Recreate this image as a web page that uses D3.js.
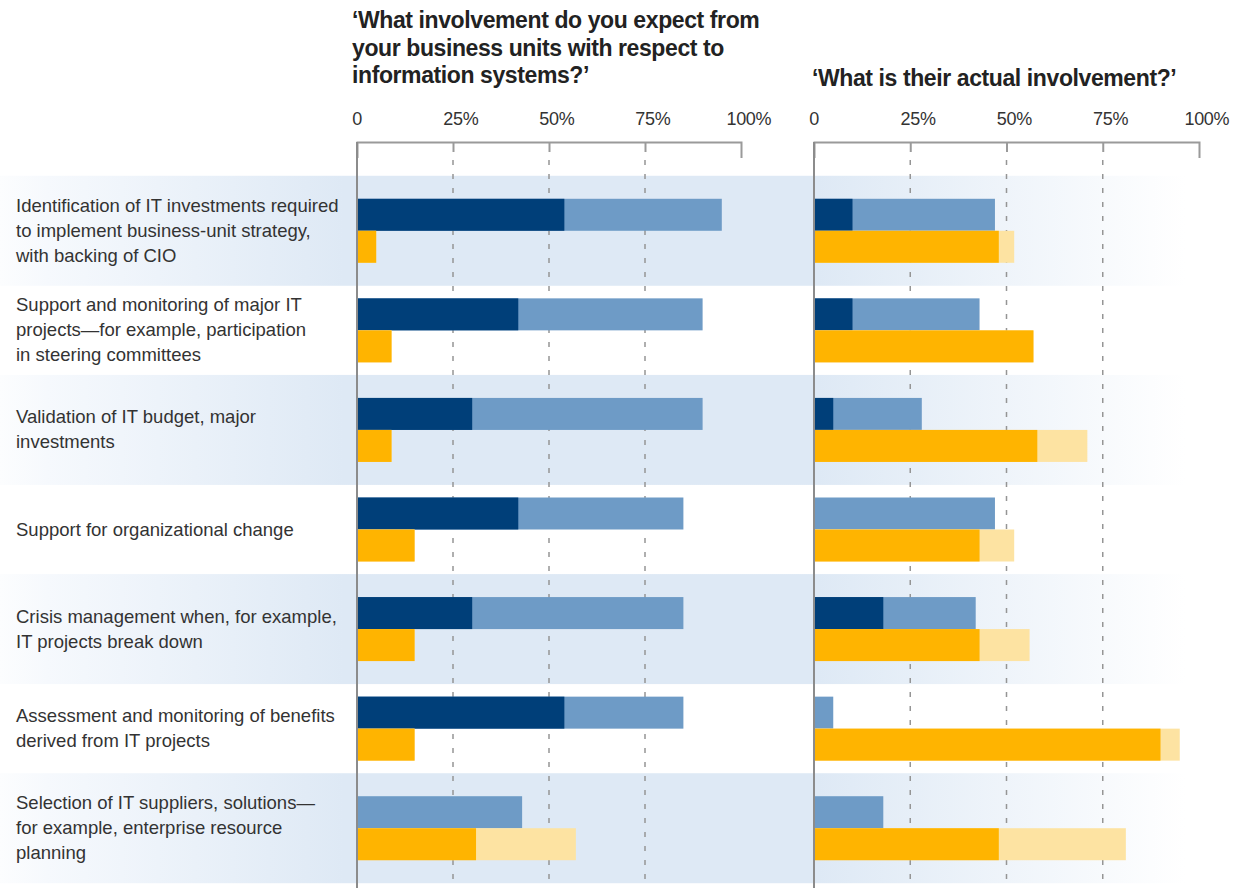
<!DOCTYPE html>
<html>
<head>
<meta charset="utf-8">
<script src="https://cdn.jsdelivr.net/npm/d3@7"></script>
<style>
  body { margin: 0; background: #fff; }
  svg { display: block; }
</style>
</head>
<body>
<svg id="chart" width="1239" height="888"></svg>
<script>
// row labels, one entry per line break
const categories = [
  ['Identification of IT investments required', 'to implement business-unit strategy,', 'with backing of CIO'],
  ['Support and monitoring of major IT', 'projects\u2014for example, participation', 'in steering committees'],
  ['Validation of IT budget, major', 'investments'],
  ['Support for organizational change'],
  ['Crisis management when, for example,', 'IT projects break down'],
  ['Assessment and monitoring of benefits', 'derived from IT projects'],
  ['Selection of IT suppliers, solutions\u2014', 'for example, enterprise resource', 'planning']
];

// expected involvement (%)
const expectStrong = [54, 42, 30, 42, 30, 54, 0];
const expectTotal = [95, 90, 90, 85, 85, 85, 43];
const expectOrange = [5, 9, 9, 15, 15, 15, 31];
const expectOrangeTotal = [5, 9, 9, 15, 15, 15, 57];

// actual involvement (%)
const actualStrong = [10, 10, 5, 0, 18, 0, 0];
const actualTotal = [47, 43, 28, 47, 42, 5, 18];
const actualOrange = [48, 57, 58, 43, 43, 90, 48];
const actualOrangeTotal = [52, 57, 71, 52, 56, 95, 81];

const tickValues = [0, 25, 50, 75, 100];
const tickLabels = ['0', '25', '50', '75', '100'];

const leftTitle = ['\u2018What involvement do you expect from', 'your business units with respect to', 'information systems?\u2019'];
const rightTitle = ['\u2018What is their actual involvement?\u2019'];

const svg = d3.select('#chart');
const font = '"Liberation Sans", Arial, sans-serif';

const xLeft = d3.scaleLinear().domain([0, 100]).range([357, 741]);
const xRight = d3.scaleLinear().domain([0, 100]).range([814, 1199]);
const y = d3.scaleBand().domain(d3.range(categories.length)).range([181, 878]);
const rowCenter = i => y(i) + y.bandwidth() / 2;
const barH = 32;

// background bands
const defs = svg.append('defs');
const grad = defs.append('linearGradient')
  .attr('id', 'band')
  .attr('gradientUnits', 'userSpaceOnUse')
  .attr('x1', 0).attr('x2', 1185).attr('y1', 0).attr('y2', 0);
[[0, '#fcfdfe'], [0.04, '#f6f9fd'], [0.29, '#dee9f5'], [0.69, '#dee9f5'], [1, '#ffffff']]
  .forEach(s => grad.append('stop').attr('offset', s[0]).attr('stop-color', s[1]));

svg.append('g')
  .selectAll('rect')
  .data(d3.range(categories.length).filter(i => i % 2 === 0))
  .enter()
  .append('rect')
  .attr('x', 0)
  .attr('width', 1185)
  .attr('y', i => rowCenter(i) - 55)
  .attr('height', 110)
  .style('fill', 'url(#band)');

// titles
function title(lines, x, y0) {
  svg.append('text')
    .attr('x', x).attr('y', y0)
    .style('font-family', font)
    .style('font-weight', 'bold')
    .style('font-size', '23px')
    .style('letter-spacing', '-0.4px')
    .style('fill', '#222')
    .selectAll('tspan')
    .data(lines)
    .enter()
    .append('tspan')
    .attr('x', x)
    .attr('dy', (d, i) => i === 0 ? 0 : 27.5)
    .text(d => d);
}
title(leftTitle, 352, 28);
title(rightTitle, 812, 86);

// axes, gridlines and bars for one panel
function panel(x, strong, total, orange, orangeTotal) {
  const g = svg.append('g');

  g.append('g')
    .attr('transform', 'translate(0,142)')
    .call(d3.axisBottom(x).tickValues([25, 50, 75]).tickSizeInner(10).tickSizeOuter(16).tickFormat(''))
    .call(a => a.selectAll('path, line').style('stroke', '#9a9a9a').style('stroke-width', 2));

  g.append('g')
    .selectAll('line')
    .data([25, 50, 75])
    .enter()
    .append('line')
    .attr('x1', d => x(d)).attr('x2', d => x(d))
    .attr('y1', 160).attr('y2', 888)
    .style('stroke', '#959595')
    .style('stroke-width', 1.5)
    .style('stroke-dasharray', '5,9');

  // tick labels: numbers centred on the tick, % trailing
  const labels = g.append('g')
    .style('font-family', font)
    .style('font-size', '18px')
    .style('letter-spacing', '-0.3px')
    .style('fill', '#333');
  tickValues.forEach((v, i) => {
    const t = labels.append('text')
      .attr('x', x(v)).attr('y', 125)
      .attr('text-anchor', 'middle')
      .text(tickLabels[i]);
    if (v > 0) {
      const w = t.node().getComputedTextLength();
      labels.append('text')
        .attr('x', x(v) + w / 2).attr('y', 125)
        .text('%');
    }
  });

  const idx = d3.range(categories.length);
  const bars = g.append('g');
  bars.selectAll('.total').data(idx).enter().append('rect')
    .attr('x', x(0)).attr('width', i => x(total[i]) - x(0))
    .attr('y', i => rowCenter(i) - barH).attr('height', barH)
    .style('fill', '#6e9bc6');
  bars.selectAll('.strong').data(idx).enter().append('rect')
    .attr('x', x(0)).attr('width', i => x(strong[i]) - x(0))
    .attr('y', i => rowCenter(i) - barH).attr('height', barH)
    .style('fill', '#003f79');
  bars.selectAll('.ototal').data(idx).enter().append('rect')
    .attr('x', x(0)).attr('width', i => x(orangeTotal[i]) - x(0))
    .attr('y', i => rowCenter(i)).attr('height', barH)
    .style('fill', '#fde3a2');
  bars.selectAll('.orange').data(idx).enter().append('rect')
    .attr('x', x(0)).attr('width', i => x(orange[i]) - x(0))
    .attr('y', i => rowCenter(i)).attr('height', barH)
    .style('fill', '#ffb400');

  g.append('line')
    .attr('x1', x(0)).attr('x2', x(0))
    .attr('y1', 142).attr('y2', 888)
    .style('stroke', '#8c8c8c')
    .style('stroke-width', 2);
}
panel(xLeft, expectStrong, expectTotal, expectOrange, expectOrangeTotal);
panel(xRight, actualStrong, actualTotal, actualOrange, actualOrangeTotal);

// row labels
svg.append('g')
  .style('font-family', font)
  .style('font-size', '18.5px')
  .style('fill', '#333')
  .selectAll('text')
  .data(categories)
  .enter()
  .append('text')
  .attr('x', 16)
  .attr('y', (d, i) => rowCenter(i) - (d.length - 1) * 12.5 + 6)
  .selectAll('tspan')
  .data(d => d)
  .enter()
  .append('tspan')
  .attr('x', 16)
  .attr('dy', (d, i) => i === 0 ? 0 : 25)
  .text(d => d);
</script>
</body>
</html>
